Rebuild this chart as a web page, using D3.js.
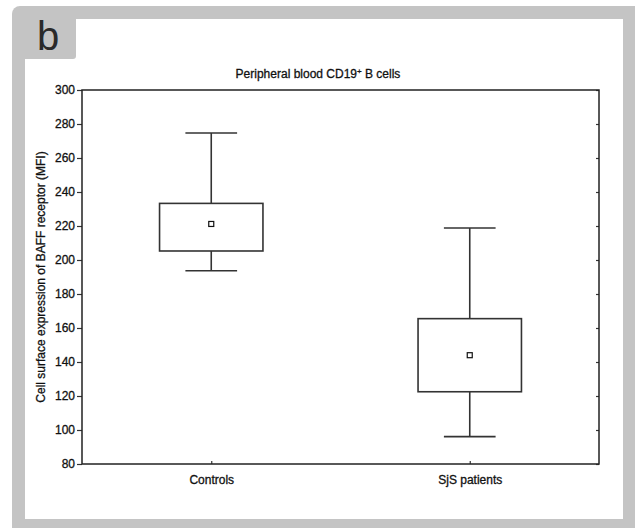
<!DOCTYPE html>
<html>
<head>
<meta charset="utf-8">
<script src="https://cdn.jsdelivr.net/npm/d3@7"></script>
<style>
  body { margin: 0; background: #fff; }
  text { font-family: "Liberation Sans", Arial, sans-serif; fill: #111; }
</style>
</head>
<body>
<script>
(function () {

// data
var categories = ["Controls", "SjS patients"];
var whiskerLow = [193.7, 96.1];
var boxLow = [205.3, 122.5];
var centre = [221.2, 144.0];
var boxHigh = [233.3, 165.5];
var whiskerHigh = [274.7, 218.8];
var yTicks = [80, 100, 120, 140, 160, 180, 200, 220, 240, 260, 280, 300];

var width = 635;
var height = 528;

var plot = { left: 82, right: 599, top: 90, bottom: 464 };

var svg = d3.select("body")
  .append("svg")
    .attr("width", width)
    .attr("height", height);

// grey frame with tab for panel letter
svg.append("rect")
    .attr("x", 12)
    .attr("y", 6)
    .attr("width", 640)
    .attr("height", 540)
    .attr("rx", 8)
    .attr("fill", "#c4c4c4");

svg.append("path")
    .attr("d", "M76,19 H623 V519 H25 V59 H73 Q76,59 76,56 Z")
    .attr("fill", "#fff");

svg.append("text")
    .attr("x", 37)
    .attr("y", 50)
    .style("font-size", "40px")
    .style("fill", "#2a2a2a")
    .text("b");

// scales
var x = d3.scalePoint()
    .domain(categories)
    .range([plot.left, plot.right])
    .padding(0.5);

var y = d3.scaleLinear()
    .domain([80, 300])
    .range([plot.bottom, plot.top]);

var step = x.step();
var boxW = step * 0.4;
var capW = step * 0.2;

// title
var title = svg.append("text")
    .attr("class", "lbl")
    .attr("x", 318)
    .attr("y", 78)
    .attr("text-anchor", "middle")
    .style("font-size", "12px");
title.append("tspan").text("Peripheral blood CD19");
title.append("tspan").attr("dy", -4).style("font-size", "8px").text("+");
title.append("tspan").attr("dy", 4).text(" B cells");

// y axis label
svg.append("text")
    .attr("class", "lbl")
    .attr("transform", "translate(45," + ((plot.top + plot.bottom) / 2) + ") rotate(-90)")
    .attr("text-anchor", "middle")
    .style("font-size", "12px")
    .text("Cell surface expression of BAFF receptor (MFI)");

// left axis
var yAxis = svg.append("g")
    .attr("transform", "translate(" + plot.left + ",0)")
    .call(d3.axisLeft(y).tickValues(yTicks).tickSize(5).tickPadding(2).tickFormat(d3.format("d")));
yAxis.select(".domain").remove();
yAxis.selectAll("line").attr("stroke", "#333").attr("stroke-width", 1.2);
yAxis.selectAll("text")
    .attr("class", "lbl")
    .style("font-size", "12px")
    .style("font-family", "Liberation Sans, Arial, sans-serif")
    .attr("fill", "#111");

// right axis ticks (inward)
var yAxisR = svg.append("g")
    .attr("transform", "translate(" + plot.right + ",0)")
    .call(d3.axisLeft(y).tickValues(yTicks).tickSize(3).tickFormat(""));
yAxisR.select(".domain").remove();
yAxisR.selectAll("line").attr("stroke", "#333").attr("stroke-width", 1.2);

// bottom axis
var xAxis = svg.append("g")
    .attr("transform", "translate(0," + plot.bottom + ")")
    .call(d3.axisBottom(x).tickSize(-3).tickPadding(11));
xAxis.select(".domain").remove();
xAxis.selectAll("line").attr("stroke", "#333").attr("stroke-width", 1.2);
xAxis.selectAll("text")
    .attr("class", "lbl")
    .style("font-size", "12px")
    .style("font-family", "Liberation Sans, Arial, sans-serif")
    .attr("fill", "#111");

// slightly heavier text, like the scanned figure
svg.selectAll(".lbl")
    .style("stroke", "#111")
    .style("stroke-width", 0.3);

// frame
svg.append("rect")
    .attr("x", plot.left)
    .attr("y", plot.top)
    .attr("width", plot.right - plot.left)
    .attr("height", plot.bottom - plot.top)
    .attr("fill", "none")
    .attr("stroke", "#222")
    .attr("stroke-width", 1.5);

// boxes
var boxes = svg.selectAll(".box")
    .data(categories)
    .enter()
    .append("g")
    .attr("class", "box");

boxes.append("line")
    .attr("x1", function(d) { return x(d); })
    .attr("x2", function(d) { return x(d); })
    .attr("y1", function(d, i) { return y(whiskerHigh[i]); })
    .attr("y2", function(d, i) { return y(boxHigh[i]); });

boxes.append("line")
    .attr("x1", function(d) { return x(d); })
    .attr("x2", function(d) { return x(d); })
    .attr("y1", function(d, i) { return y(boxLow[i]); })
    .attr("y2", function(d, i) { return y(whiskerLow[i]); });

boxes.append("line")
    .attr("x1", function(d) { return x(d) - capW / 2; })
    .attr("x2", function(d) { return x(d) + capW / 2; })
    .attr("y1", function(d, i) { return y(whiskerHigh[i]); })
    .attr("y2", function(d, i) { return y(whiskerHigh[i]); });

boxes.append("line")
    .attr("x1", function(d) { return x(d) - capW / 2; })
    .attr("x2", function(d) { return x(d) + capW / 2; })
    .attr("y1", function(d, i) { return y(whiskerLow[i]); })
    .attr("y2", function(d, i) { return y(whiskerLow[i]); });

boxes.append("rect")
    .attr("x", function(d) { return x(d) - boxW / 2; })
    .attr("y", function(d, i) { return y(boxHigh[i]); })
    .attr("width", boxW)
    .attr("height", function(d, i) { return y(boxLow[i]) - y(boxHigh[i]); })
    .attr("fill", "none");

boxes.selectAll("line, rect")
    .attr("stroke", "#333")
    .attr("stroke-width", 1.6);

boxes.append("rect")
    .attr("x", function(d) { return x(d) - 2.5; })
    .attr("y", function(d, i) { return y(centre[i]) - 2.5; })
    .attr("width", 5)
    .attr("height", 5)
    .attr("fill", "#fff")
    .attr("stroke", "#111")
    .attr("stroke-width", 1.2);

}());
</script>
</body>
</html>
